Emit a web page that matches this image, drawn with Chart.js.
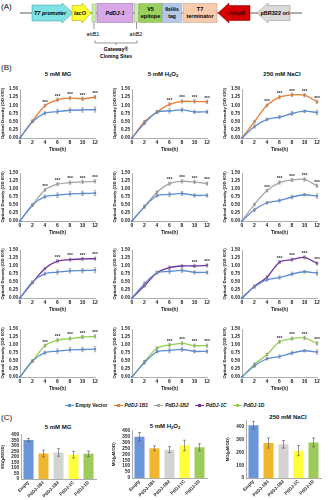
<!DOCTYPE html>
<html><head><meta charset="utf-8">
<script src="https://cdn.jsdelivr.net/npm/chart.js@4.4.1/dist/chart.umd.min.js"></script>
<style>
body{margin:0;width:329px;height:500px;position:relative;background:#fff;font-family:"Liberation Sans",Arial,sans-serif;overflow:hidden;color:#111}
canvas{position:absolute}
.t{position:absolute;text-align:center;font-weight:bold;white-space:nowrap}
.lbl{position:absolute;font-size:8px;line-height:8px}
sub{font-size:70%;vertical-align:-1px;line-height:0}
#legend{position:absolute;left:0;width:329px;top:402px;display:flex;justify-content:center;gap:6px;font-size:5px;font-weight:bold;line-height:6px}
#legend span.i{display:flex;align-items:center;gap:2px}
#legend span.m{position:relative;width:9px;height:6px;display:inline-block}
#legend span.m:before{content:"";position:absolute;left:0;right:0;top:2.5px;height:1px;background:var(--c)}
#legend span.m:after{content:"";position:absolute;left:3px;top:1.5px;width:3px;height:3px;background:var(--c)}
</style></head><body>

<svg width="329" height="62" style="position:absolute;left:0;top:0" font-family="Liberation Sans, Arial, sans-serif" font-weight="bold">
<text x="1" y="9" font-size="8" font-weight="normal">(A)</text>
<line x1="20" y1="13" x2="302" y2="13" stroke="#333" stroke-width="0.8"/>
<polygon points="32,5 62,5 62,3 73,13 62,23 62,21 32,21" fill="#7FE3E6" stroke="#3a8fa0" stroke-width="0.5"/>
<text x="50" y="15" font-size="5.5" font-style="italic" text-anchor="middle">T7 promoter</text>
<polygon points="72,5.5 82,5.5 82,3 91,13 82,23 82,20.5 72,20.5" fill="#FFFF33" stroke="#999900" stroke-width="0.5"/>
<text x="80" y="15" font-size="5.5" font-style="italic" text-anchor="middle">lacO</text>
<rect x="92" y="4" width="4" height="18" fill="#C9F0A0" stroke="#7a9a6a" stroke-width="0.4"/>
<rect x="97" y="3.5" width="36" height="19" fill="#D8A8E6" stroke="#8a6a9a" stroke-width="0.5"/>
<text x="115" y="15" font-size="5.5" font-style="italic" text-anchor="middle">PdDJ-1</text>
<rect x="134.5" y="4" width="4" height="18" fill="#C9F0A0" stroke="#7a9a6a" stroke-width="0.4"/>
<rect x="139" y="3.5" width="23" height="19" fill="#9BD05E" stroke="#6a9a3a" stroke-width="0.4"/>
<text x="150.5" y="11" font-size="5.5" text-anchor="middle">V5</text>
<text x="150.5" y="18" font-size="5.5" text-anchor="middle">epitope</text>
<rect x="162.5" y="3.5" width="19" height="19" fill="#B4C7E7" stroke="#7a8aaa" stroke-width="0.4"/>
<text x="172" y="11" font-size="5" text-anchor="middle">6xHis</text>
<text x="172" y="18" font-size="5" text-anchor="middle">tag</text>
<rect x="183" y="3.5" width="34" height="19" fill="#F8CBAD" stroke="#b08a70" stroke-width="0.4"/>
<text x="200" y="11" font-size="5.5" text-anchor="middle">T7</text>
<text x="200" y="18" font-size="5.5" text-anchor="middle">terminator</text>
<polygon points="250,5.5 229,5.5 229,3 218,13 229,23 229,20.5 250,20.5" fill="#D40000" stroke="#800" stroke-width="0.5"/>
<text x="237" y="15" font-size="5.5" text-anchor="middle" fill="#300">AmpR</text>
<polygon points="290,5.5 268,5.5 268,3 257,13 268,23 268,20.5 290,20.5" fill="#DADADA" stroke="#888" stroke-width="0.5"/>
<text x="275" y="15" font-size="5.5" text-anchor="middle">pBR322 ori</text>
<line x1="94" y1="22" x2="94" y2="29" stroke="#333" stroke-width="0.5"/>
<line x1="136.5" y1="22" x2="136.5" y2="29" stroke="#333" stroke-width="0.5"/>
<text x="93" y="35.5" font-size="5.5" font-weight="normal" text-anchor="middle">attB1</text>
<text x="136" y="35.5" font-size="5.5" font-weight="normal" text-anchor="middle">attB2</text>
<path d="M95,40.5 L95,43 L137,43 L137,40.5 M116,43 L116,45" fill="none" stroke="#333" stroke-width="0.5"/>
<text x="116" y="50.5" font-size="5" text-anchor="middle">Gateway®</text>
<text x="116" y="57.5" font-size="5" text-anchor="middle">Cloning Sites</text>
</svg>

<div class="lbl" style="left:1px;top:64px">(B)</div>
<div class="lbl" style="left:1px;top:414px">(C)</div>

<div class="t" style="left:8px;width:100px;top:71px;font-size:6px">5 mM MG</div>
<div class="t" style="left:113px;width:100px;top:71px;font-size:6px">5 mM H<sub>2</sub>O<sub>2</sub></div>
<div class="t" style="left:232px;width:100px;top:71px;font-size:6px">250 mM NaCl</div>

<div class="t" style="left:8px;width:100px;top:424px;font-size:6px">5 mM MG</div>
<div class="t" style="left:115px;width:100px;top:423px;font-size:6px">5 mM H<sub>2</sub>O<sub>2</sub></div>
<div class="t" style="left:238px;width:100px;top:414px;font-size:6px">250 mM NaCl</div>

<div id="legend"></div>

<script>
// ---------- data ----------
const timePoints = [0, 2, 4, 6, 8, 10, 12];
const seriesNames = ['Empty Vector', 'PdDJ-1B1', 'PdDJ-1B2', 'PdDJ-1C', 'PdDJ-1D'];

// Empty vector (shared control) per condition
const emptyMG   = [0, 0.50, 0.76, 0.81, 0.85, 0.86, 0.87];
const emptyH2O2 = [0, 0.45, 0.79, 0.83, 0.86, 0.80, 0.80];
const emptyNaCl = [0, 0.35, 0.57, 0.64, 0.75, 0.82, 0.78];
const emptyMGErr   = [0, 0.03, 0.05, 0.07, 0.07, 0.07, 0.08];
const emptyH2O2Err = [0, 0.05, 0.04, 0.07, 0.06, 0.05, 0.05];
const emptyNaClErr = [0, 0.05, 0.04, 0.05, 0.06, 0.04, 0.07];

// PdDJ-1B1
const b1MG   = [0, 0.52, 0.99, 1.17, 1.22, 1.20, 1.25];
const b1H2O2 = [0, 0.50, 0.80, 1.03, 1.12, 1.12, 1.11];
const b1NaCl = [0, 0.50, 1.00, 1.25, 1.32, 1.31, 1.11];
// PdDJ-1B2
const b2MG   = [0, 0.50, 0.97, 1.15, 1.20, 1.22, 1.24];
const b2H2O2 = [0, 0.45, 0.90, 1.17, 1.24, 1.22, 1.17];
const b2NaCl = [0, 0.52, 0.95, 1.20, 1.28, 1.30, 1.10];
// PdDJ-1C
const cMG    = [0, 0.48, 0.92, 1.15, 1.20, 1.22, 1.23];
const cH2O2  = [0, 0.38, 0.79, 0.95, 1.00, 1.00, 1.02];
const cNaCl  = [0, 0.37, 0.65, 1.12, 1.20, 1.27, 1.08];
// PdDJ-1D
const dMG    = [0, 0.50, 0.98, 1.15, 1.20, 1.25, 1.27];
const dH2O2  = [0, 0.48, 0.90, 1.00, 1.05, 0.98, 0.98];
const dNaCl  = [0, 0.40, 0.70, 1.10, 1.20, 1.22, 1.05];
const lineErr = [0, 0.04, 0.04, 0.05, 0.05, 0.05, 0.05];

// significance (time points with ***)
const sigB1 = [[4,6,8,10,12],[6,8,10,12],[4,6,8,10,12]];
const sigB2 = [[4,6,8,10,12],[6,8,10,12],[4,6,8,10,12]];
const sigC  = [[6,8,10,12],[10,12],[6,8,10,12]];
const sigD  = [[4,6,8,10,12],[6,8,10,12],[6,8,10,12]];

// (C) MG content bars
const barCategories = ['Empty', 'PdDJ-1B1', 'PdDJ-1B2', 'PdDJ-1C', 'PdDJ-1D'];
const mgBarsMG    = [352, 230, 240, 220, 228];
const mgBarsMGErr = [15, 30, 35, 30, 25];
const mgBarsH2O2    = [350, 252, 240, 275, 260];
const mgBarsH2O2Err = [35, 20, 25, 45, 30];
const mgBarsNaCl    = [415, 275, 265, 215, 280];
const mgBarsNaClErr = [30, 40, 30, 40, 35];

const lineColors = ['#5B8DD6', '#ED7D31', '#A5A5A5', '#7030A0', '#92D050'];
const barColors  = ['#6A95D8', '#F0B72E', '#D3D3D3', '#FFFF3A', '#9CCB5A'];

// ---------- plugins ----------
Chart.defaults.font.family = '"Liberation Sans", Arial, sans-serif';
Chart.defaults.color = '#1a1a1a';

const errorBars = {
  id: 'errorBars',
  afterDatasetsDraw(chart) {
    const ctx = chart.ctx, ys = chart.scales.y;
    chart.data.datasets.forEach((ds, i) => {
      if (!ds.errors) return;
      const meta = chart.getDatasetMeta(i);
      ctx.save();
      ctx.strokeStyle = ds.errColor || '#777';
      ctx.lineWidth = 0.6;
      const cap = ds.errCap || 1.5;
      meta.data.forEach((el, j) => {
        const e = ds.errors[j];
        if (!e) return;
        const v = typeof ds.data[j] === 'object' ? ds.data[j].y : ds.data[j];
        const x = el.x, y1 = ys.getPixelForValue(v + e), y2 = ys.getPixelForValue(v - e);
        ctx.beginPath();
        ctx.moveTo(x, y1); ctx.lineTo(x, y2);
        ctx.moveTo(x - cap, y1); ctx.lineTo(x + cap, y1);
        ctx.moveTo(x - cap, y2); ctx.lineTo(x + cap, y2);
        ctx.stroke();
      });
      ctx.restore();
    });
  }
};

const stars = {
  id: 'stars',
  afterDatasetsDraw(chart, args, opts) {
    const at = opts.at || [];
    if (!at.length) return;
    const ctx = chart.ctx, xs = chart.scales.x, ys = chart.scales.y;
    ctx.save();
    ctx.font = 'bold 4.8px "Liberation Sans", Arial';
    ctx.fillStyle = '#333';
    ctx.textAlign = 'center';
    ctx.textBaseline = 'bottom';
    at.forEach(t => {
      let top = -Infinity;
      chart.data.datasets.forEach(ds => ds.data.forEach((p, j) => {
        if (p.x === t) top = Math.max(top, p.y + (ds.errors ? ds.errors[j] : 0));
      }));
      ctx.fillText('***', xs.getPixelForValue(t), ys.getPixelForValue(top) + 0.5);
    });
    ctx.restore();
  }
};

function mkCanvas(left, top, w, h) {
  const c = document.createElement('canvas');
  c.width = w; c.height = h;
  c.style.left = left + 'px'; c.style.top = top + 'px';
  c.style.width = w + 'px'; c.style.height = h + 'px';
  document.body.appendChild(c);
  return c;
}

const tickFont = { size: 5, weight: 'bold' };
const titleFont = { size: 4.8, weight: 'bold' };

function toPts(arr) { return timePoints.map((t, i) => ({ x: t, y: arr[i] })); }

function lineChart(left, plotTop, plotH, control, controlErr, treat, treatColor, sig) {
  const c = mkCanvas(left, plotTop - 5, 100, 5 + plotH + 16);
  const mkDs = (arr, err, color, label) => ({
    label, data: toPts(arr), errors: err, errColor: '#888', errCap: 1.2,
    borderColor: color, backgroundColor: color, borderWidth: 1.3,
    pointStyle: 'rect', pointRadius: 1.6, pointBorderWidth: 0, tension: 0.3, clip: 6
  });
  new Chart(c, {
    type: 'line',
    data: { datasets: [mkDs(control, controlErr, lineColors[0], seriesNames[0]), mkDs(treat, lineErr, treatColor, 'treat')] },
    options: {
      responsive: false, animation: false, events: [],
      layout: { padding: { top: 5, right: 5, left: 0, bottom: 0 } },
      plugins: { legend: { display: false }, tooltip: { enabled: false }, stars: { at: sig } },
      scales: {
        x: {
          type: 'linear', min: 0, max: 12,
          grid: { display: false, drawTicks: false },
          border: { display: true, color: '#999', width: 0.8 },
          ticks: { stepSize: 2, font: tickFont, padding: 2, autoSkip: false, maxRotation: 0 },
          title: { display: true, text: 'Time(h)', font: titleFont, padding: { top: 0, bottom: 1 } },
          afterFit(s) { s.height = 16; }
        },
        y: {
          min: 0, max: 1.5,
          grid: { display: false, drawTicks: false },
          border: { display: true, color: '#999', width: 0.8 },
          ticks: { stepSize: 0.25, font: { size: 4.6, weight: 'bold' }, padding: 2, autoSkip: false, callback: v => v.toFixed(2) },
          title: { display: true, text: 'Optical Density (OD 600)', font: { size: 4.4, weight: 'bold' }, padding: { top: 0, bottom: 0 } },
          afterFit(s) { s.width = 20; }
        }
      }
    },
    plugins: [errorBars, stars]
  });
}

const colLefts = [0, 112, 222];
const rowTops = [89, 173, 250, 329];
const plotH = 48;
const controls = [emptyMG, emptyH2O2, emptyNaCl];
const controlErrs = [emptyMGErr, emptyH2O2Err, emptyNaClErr];
const treatRows = [[b1MG, b1H2O2, b1NaCl], [b2MG, b2H2O2, b2NaCl], [cMG, cH2O2, cNaCl], [dMG, dH2O2, dNaCl]];
const sigRows = [sigB1, sigB2, sigC, sigD];

treatRows.forEach((row, r) => row.forEach((treat, col) => {
  lineChart(colLefts[col], rowTops[r], r === 0 ? 49 : plotH, controls[col], controlErrs[col], treat, lineColors[r + 1], sigRows[r][col]);
}));

// legend
const lg = document.getElementById('legend');
seriesNames.forEach((n, i) => {
  const s = document.createElement('span');
  s.className = 'i';
  s.innerHTML = '<span class="m" style="--c:' + lineColors[i] + '"></span><span style="' + (i ? 'font-style:italic' : '') + '">' + n + '</span>';
  lg.appendChild(s);
});

function barChart(left, plotTop, plotH, yMax, yStep, values, errs) {
  const c = mkCanvas(left, plotTop - 4, 100, 4 + plotH + 21);
  new Chart(c, {
    type: 'bar',
    data: { labels: barCategories, datasets: [{ data: values, errors: errs, errColor: '#555', errCap: 1.5, backgroundColor: barColors, borderWidth: 0, barPercentage: 0.67, categoryPercentage: 1 }] },
    options: {
      responsive: false, animation: false, events: [],
      layout: { padding: { top: 4, right: 4, left: 0, bottom: 0 } },
      plugins: { legend: { display: false }, tooltip: { enabled: false } },
      scales: {
        x: {
          grid: { display: false, drawTicks: false },
          border: { display: true, color: '#999', width: 0.8 },
          ticks: { font: { size: 4.5, weight: 'bold' }, minRotation: 45, maxRotation: 45, padding: 1, autoSkip: false },
          afterFit(s) { s.height = 21; }
        },
        y: {
          min: 0, max: yMax,
          grid: { display: false, drawTicks: false },
          border: { display: true, color: '#999', width: 0.8 },
          ticks: { stepSize: yStep, font: { size: 4.6, weight: 'bold' }, padding: 2, autoSkip: false, callback: v => (v % yStep === 0 ? v : '') },
          title: { display: true, text: 'MG(µM/OD)', font: { size: 4.4, weight: 'bold' }, padding: { top: 0, bottom: 0 } },
          afterFit(s) { s.width = 21; }
        }
      }
    },
    plugins: [errorBars]
  });
}

barChart(0, 434, 45, 400, 50, mgBarsMG, mgBarsMGErr);
barChart(111, 430, 48, 400, 50, mgBarsH2O2, mgBarsH2O2Err);
barChart(225, 419.5, 58.5, 450, 100, mgBarsNaCl, mgBarsNaClErr);
</script>
</body></html>
